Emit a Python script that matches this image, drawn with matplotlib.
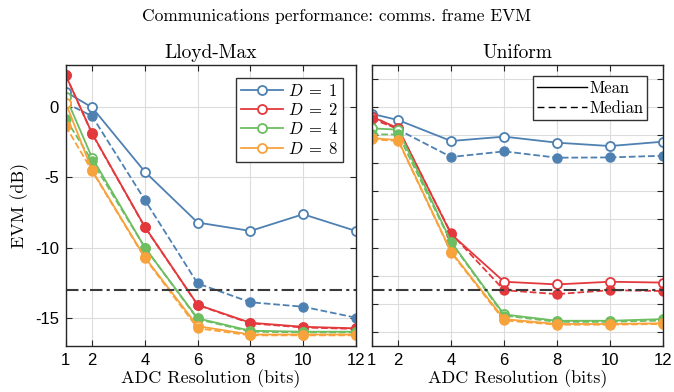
import matplotlib
matplotlib.use("Agg")
import matplotlib.pyplot as plt
from matplotlib.lines import Line2D

# tick labels are sans, all other text is Computer Modern
plt.rcParams['font.family'] = 'Liberation Sans'
plt.rcParams['mathtext.fontset'] = 'cm'
plt.rcParams['axes.unicode_minus'] = False
SERIF = 'cmr10'

# ADC resolution (bits)
bits = [1, 2, 4, 6, 8, 10, 12]
d_values = [1, 2, 4, 8]
colors = ['#4e81b2', '#e3393d', '#6dbd61', '#f8a23c']

# Lloyd-Max: mean / median EVM (dB)
lm_mean = {
    1: [1.09, -0.02, -4.6, -8.22, -8.82, -7.63, -8.82],
    2: [2.28, -1.87, -8.53, -14.08, -15.36, -15.65, -15.76],
    4: [0.74, -3.6, -10.0, -15.05, -15.93, -16.0, -16.0],
    8: [0.31, -4.5, -10.7, -15.6, -16.2, -16.2, -16.2],
}
lm_median = {
    1: [0.3, -0.64, -6.61, -12.56, -13.9, -14.22, -15.0],
    2: [2.28, -1.9, -8.55, -14.1, -15.4, -15.7, -15.8],
    4: [-0.83, -3.84, -10.0, -15.1, -16.0, -16.05, -16.05],
    8: [-1.35, -4.55, -10.76, -15.75, -16.26, -16.26, -16.26],
}

# Uniform: mean / median EVM (dB)
un_mean = {
    1: [-0.47, -0.92, -2.41, -2.1, -2.53, -2.77, -2.46],
    2: [-0.68, -1.5, -9.05, -12.44, -12.63, -12.44, -12.5],
    4: [-1.51, -1.6, -9.6, -14.77, -15.22, -15.22, -15.1],
    8: [-2.2, -2.35, -10.3, -15.1, -15.45, -15.45, -15.4],
}
un_median = {
    1: [-0.6, -1.6, -3.55, -3.15, -3.6, -3.58, -3.46],
    2: [-0.83, -1.55, -9.0, -13.04, -13.32, -13.04, -13.1],
    4: [-1.94, -1.94, -9.65, -14.85, -15.3, -15.3, -15.2],
    8: [-2.3, -2.4, -10.36, -15.2, -15.5, -15.5, -15.45],
}

target_evm = -13

fig = plt.figure(figsize=(6.74, 3.92), dpi=100)
ax1 = fig.add_axes([0.0975, 0.118, 0.4305, 0.716])
ax2 = fig.add_axes([0.5515, 0.118, 0.4320, 0.716])


def draw_panel(ax, mean, median, title, yticks, ylabels):
    handles = []
    for d, c in zip(d_values, colors):
        h, = ax.plot(bits, mean[d], '-o', color=c, lw=1.3, ms=6.5,
                     mfc='white', mec=c, mew=1.3, label=f'$D\\;=\\;{d}$')
        ax.plot(bits, median[d], '--o', color=c, lw=1.3, ms=6.5,
                mfc=c, mec=c)
        handles.append(h)
    ax.plot([1, 12], [target_evm, target_evm], color='#3a3a3a', lw=1.5,
            ls=(0, (6, 2, 1.5, 2)))
    ax.set_xlim(1, 12)
    ax.set_ylim(-17, 3)
    ax.set_xticks(bits)
    ax.set_xticklabels([str(b) for b in bits])
    ax.set_yticks(yticks)
    ax.set_yticklabels(ylabels)
    for lbl in ax.get_xticklabels() + ax.get_yticklabels():
        lbl.set_fontfamily('Liberation Sans')
        lbl.set_fontsize(12)
    ax.grid(True, color='#dcdcdc', lw=0.8)
    ax.set_axisbelow(True)
    ax.tick_params(direction='in', top=True, right=True, length=4,
                   color='#262626', pad=5)
    for s in ax.spines.values():
        s.set_color('#262626')
        s.set_linewidth(1.0)
    ax.set_title(title, fontsize=14, pad=5, family=SERIF)
    ax.set_xlabel('ADC Resolution (bits)', fontsize=13, labelpad=1,
                  family=SERIF)
    return handles


lm_ticks = [0, -5, -10, -15]
handles = draw_panel(ax1, lm_mean, lm_median, 'Lloyd-Max',
                     lm_ticks, [str(t) for t in lm_ticks])
ax1.set_ylabel('EVM (dB)', fontsize=13, labelpad=4, family=SERIF)

un_ticks = list(range(2, -17, -2))
draw_panel(ax2, un_mean, un_median, 'Uniform', un_ticks, ['' for t in un_ticks])

leg1 = ax1.legend(handles=handles, loc='upper right', fontsize=12,
                  handlelength=2.5, borderpad=0.3, labelspacing=0.2,
                  handletextpad=0.3, fancybox=False, framealpha=1,
                  edgecolor='#333333', bbox_to_anchor=(0.985, 0.985))
leg1.get_frame().set_linewidth(1.0)

stat_handles = [Line2D([], [], color='black', lw=1.0, ls='-'),
                Line2D([], [], color='black', lw=1.0, ls=(0, (5, 3)))]
leg2 = ax2.legend(stat_handles, ['Mean', 'Median'], loc='upper right',
                  prop={'family': SERIF, 'size': 12}, handlelength=3.0,
                  borderpad=0.25, labelspacing=0.3, handletextpad=0.1,
                  fancybox=False, framealpha=1, edgecolor='#333333',
                  bbox_to_anchor=(0.975, 0.99))
leg2.get_frame().set_linewidth(1.0)

fig.suptitle('Communications performance: comms. frame EVM', fontsize=12.5,
             y=0.978, family=SERIF)

fig.savefig('out.png', dpi=100)
